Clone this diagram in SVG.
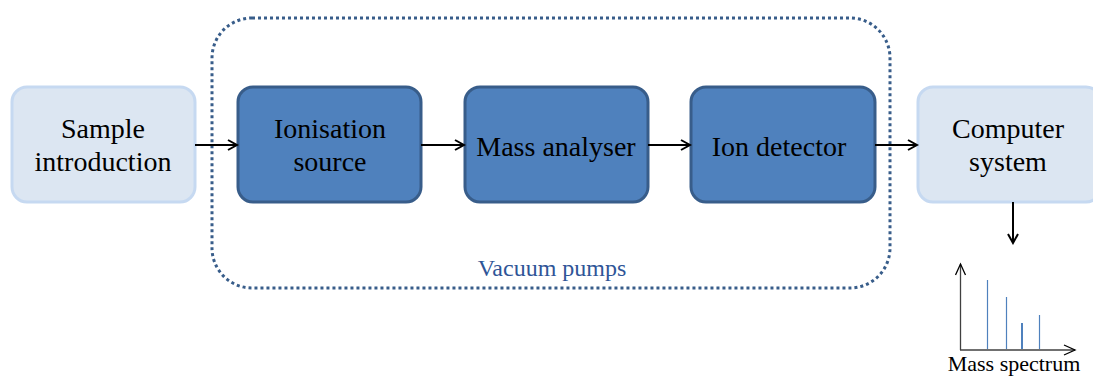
<svg xmlns="http://www.w3.org/2000/svg" width="1093" height="378" viewBox="0 0 1093 378">
<defs>
<style>
.light{fill:#dce6f2;stroke:#c6d9f1;stroke-width:3}
.dark{fill:#4f81bd;stroke:#385d8a;stroke-width:3}
.t{font-size:28px;fill:#000;text-anchor:middle}
.conn{stroke:#000;stroke-width:2;fill:none}
.bar{stroke:#4f81bd;stroke-width:1.2}
.bar.thick{stroke-width:2}
</style>
<marker id="ah" markerWidth="12" markerHeight="12" refX="10" refY="6" orient="auto" markerUnits="userSpaceOnUse">
<path d="M1,1 L10,6 L1,11" fill="none" stroke="#000" stroke-width="2"/>
</marker>
<marker id="ah2" markerWidth="14" markerHeight="12" refX="12" refY="6" orient="auto" markerUnits="userSpaceOnUse">
<path d="M1,1 L12,6 L1,11" fill="none" stroke="#000" stroke-width="1.3"/>
</marker>
</defs>
<g font-family="Liberation Serif, Times New Roman, serif">
<g id="vacuum">
<rect x="212" y="18" width="678" height="270" rx="40" ry="40" fill="none" stroke="#385d8a" stroke-width="3" stroke-dasharray="3 3"/>
<text x="552" y="276" font-size="24" fill="#2f5597" text-anchor="middle">Vacuum pumps</text>
</g>
<g id="sample">
<rect class="light" x="12" y="87" width="183" height="115" rx="15"/>
<text class="t" x="103" y="138">Sample</text>
<text class="t" x="103" y="171">introduction</text>
</g>
<g id="ionisation">
<rect class="dark" x="238" y="87" width="183" height="115" rx="15"/>
<text class="t" x="330" y="138">Ionisation</text>
<text class="t" x="330" y="171">source</text>
</g>
<g id="analyser">
<rect class="dark" x="465" y="87" width="183" height="115" rx="15"/>
<text class="t" x="556" y="156">Mass analyser</text>
</g>
<g id="detector">
<rect class="dark" x="691" y="87" width="184" height="115" rx="15"/>
<text class="t" x="779" y="156">Ion detector</text>
</g>
<g id="computer">
<rect class="light" x="918" y="87" width="183" height="115" rx="15"/>
<text class="t" x="1008" y="138">Computer</text>
<text class="t" x="1008" y="171">system</text>
</g>
<g id="connectors">
<line class="conn" x1="195" y1="145" x2="237" y2="145" marker-end="url(#ah)"/>
<line class="conn" x1="421" y1="145" x2="464" y2="145" marker-end="url(#ah)"/>
<line class="conn" x1="648" y1="145" x2="690" y2="145" marker-end="url(#ah)"/>
<line class="conn" x1="875" y1="145" x2="917" y2="145" marker-end="url(#ah)"/>
<line class="conn" x1="1013" y1="202" x2="1013" y2="243" marker-end="url(#ah)"/>
</g>
<g id="spectrum">
<line x1="960.5" y1="350" x2="960.5" y2="264" stroke="#404040" stroke-width="1.3" marker-end="url(#ah2)"/>
<line x1="960" y1="350" x2="1075" y2="350" stroke="#404040" stroke-width="1.3" marker-end="url(#ah2)"/>
<line class="bar" x1="987.5" y1="349" x2="987.5" y2="280"/>
<line class="bar" x1="1006.5" y1="349" x2="1006.5" y2="297"/>
<line class="bar thick" x1="1022" y1="349" x2="1022" y2="323"/>
<line class="bar" x1="1039.5" y1="349" x2="1039.5" y2="315"/>
<text x="1014" y="371" font-size="22" fill="#000" text-anchor="middle">Mass spectrum</text>
</g>
</g>
</svg>
